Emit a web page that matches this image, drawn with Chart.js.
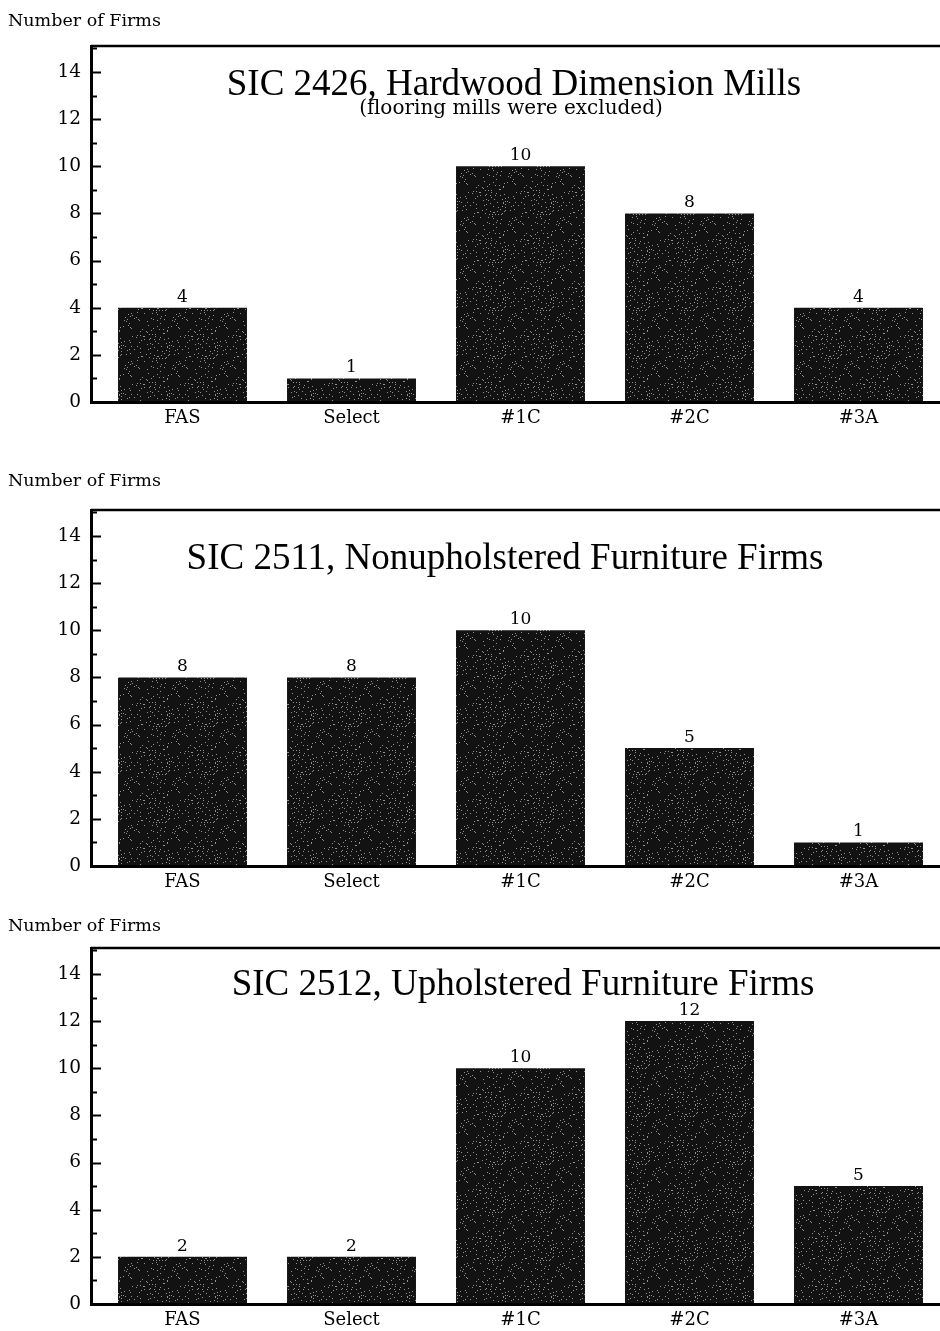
<!DOCTYPE html>
<html>
<head>
<meta charset="utf-8">
<script src="https://cdn.jsdelivr.net/npm/chart.js@4"></script>
<style>
  html, body { margin: 0; padding: 0; background: #fff; overflow: hidden; width: 940px; height: 1331px; }
  .panel { position: absolute; left: 0; width: 943px; height: 440px; }
</style>
</head>
<body>
<div class="panel" style="top:0px"><canvas id="c1" width="943" height="440"></canvas></div>
<div class="panel" style="top:464px"><canvas id="c2" width="943" height="440"></canvas></div>
<div class="panel" style="top:902px"><canvas id="c3" width="943" height="440"></canvas></div>
<script>
const categories = ["FAS", "Select", "#1C", "#2C", "#3A"];
const firms2426 = [4, 1, 10, 8, 4];
const firms2511 = [8, 8, 10, 5, 1];
const firms2512 = [2, 2, 10, 12, 5];
const yMax = 15.1;
const yTickStep = 2;

const SERIF = "'DejaVu Serif', serif";
const TITLE_SERIF = "'Liberation Serif', 'Times New Roman', serif";
const AXIS_GAP = 7; // the y axis line sits a little left of the first category

// speckled dark fill, like the scanned halftone bars
function makeSpeckle() {
  const c = document.createElement("canvas");
  c.width = 48;
  c.height = 48;
  const g = c.getContext("2d");
  g.fillStyle = "#121212";
  g.fillRect(0, 0, 48, 48);
  g.fillStyle = "rgba(190,190,190,0.75)";
  for (let x = 0; x < 48; x++) {
    for (let y = 0; y < 48; y++) {
      const h = (x * 7919 + y * 104729 + x * y * 31) % 97;
      if (h < 5) g.fillRect(x, y, 1, 1);
    }
  }
  return g.createPattern(c, "repeat");
}
const speckle = makeSpeckle();

const framePlugin = {
  id: "frame",
  afterDatasetsDraw(chart) {
    const { ctx, chartArea: a, scales } = chart;
    const opts = chart.options.plugins.frame;
    const axisX = a.left - AXIS_GAP;
    ctx.save();
    // value labels above bars
    ctx.fillStyle = "#000";
    ctx.font = "17px " + SERIF;
    ctx.textAlign = "center";
    ctx.textBaseline = "bottom";
    const meta = chart.getDatasetMeta(0);
    meta.data.forEach((bar, i) => {
      ctx.fillText(String(chart.data.datasets[0].data[i]), bar.x, bar.y - 2);
    });
    // frame lines
    ctx.strokeStyle = "#000";
    ctx.lineWidth = 3;
    ctx.beginPath();
    ctx.moveTo(axisX + 0.5, a.top - 1);
    ctx.lineTo(axisX + 0.5, a.bottom + 2);
    ctx.moveTo(axisX, a.bottom + 0.5);
    ctx.lineTo(a.right, a.bottom + 0.5);
    ctx.stroke();
    ctx.lineWidth = 2.5;
    ctx.beginPath();
    ctx.moveTo(axisX, a.top);
    ctx.lineTo(a.right, a.top);
    ctx.stroke();
    // inward tick marks, long on even values, short on odd
    ctx.lineWidth = 2;
    ctx.beginPath();
    for (let v = 1; v <= Math.floor(yMax); v++) {
      const y = Math.round(scales.y.getPixelForValue(v)) + 0.5;
      const len = v % 2 === 0 ? 9 : 5;
      ctx.moveTo(axisX + 1, y);
      ctx.lineTo(axisX + 1 + len, y);
    }
    ctx.stroke();
    // axis title and chart title
    ctx.textAlign = "left";
    ctx.textBaseline = "alphabetic";
    ctx.font = "17.5px " + SERIF;
    ctx.fillText("Number of Firms", 8, a.top + opts.axisTitleDy);
    ctx.textAlign = "center";
    ctx.font = "37px " + TITLE_SERIF;
    ctx.fillText(opts.title, opts.titleX, a.top + opts.titleDy);
    if (opts.subtitle) {
      ctx.font = "20px " + SERIF;
      ctx.fillText(opts.subtitle, opts.subtitleX, a.top + opts.subtitleDy);
    }
    ctx.restore();
  },
};

function makeChart(id, values, frame) {
  return new Chart(document.getElementById(id), {
    type: "bar",
    data: {
      labels: categories,
      datasets: [
        {
          data: values,
          backgroundColor: speckle,
          borderWidth: 0,
          barPercentage: 0.763,
          categoryPercentage: 1,
        },
      ],
    },
    options: {
      responsive: false,
      animation: false,
      layout: { padding: { top: 46, left: 0, right: 0, bottom: 0 } },
      plugins: {
        legend: { display: false },
        tooltip: { enabled: false },
        frame,
      },
      scales: {
        x: {
          afterFit: (s) => { s.height = 38; },
          grid: { display: false, drawTicks: false },
          border: { display: false },
          ticks: {
            autoSkip: false,
            maxRotation: 0,
            padding: 6,
            color: "#000",
            font: { family: SERIF, size: 18 },
          },
        },
        y: {
          min: 0,
          max: yMax,
          afterFit: (s) => { s.width = 91 + AXIS_GAP; },
          grid: { display: false, drawTicks: false },
          border: { display: false },
          ticks: {
            stepSize: yTickStep,
            padding: 10 + AXIS_GAP,
            color: "#000",
            font: { family: SERIF, size: 18.5 },
            callback: (v) => (Number.isInteger(v) && v % 2 === 0 ? v : ""),
          },
        },
      },
    },
    plugins: [framePlugin],
  });
}

makeChart("c1", firms2426, {
  axisTitleDy: -20,
  title: "SIC 2426, Hardwood Dimension Mills",
  titleX: 514,
  titleDy: 49,
  subtitle: "(flooring mills were excluded)",
  subtitleX: 511,
  subtitleDy: 68,
});
makeChart("c2", firms2511, {
  axisTitleDy: -24,
  title: "SIC 2511, Nonupholstered Furniture Firms",
  titleX: 505,
  titleDy: 59,
});
makeChart("c3", firms2512, {
  axisTitleDy: -17,
  title: "SIC 2512, Upholstered Furniture Firms",
  titleX: 523,
  titleDy: 47,
});
</script>
</body>
</html>
